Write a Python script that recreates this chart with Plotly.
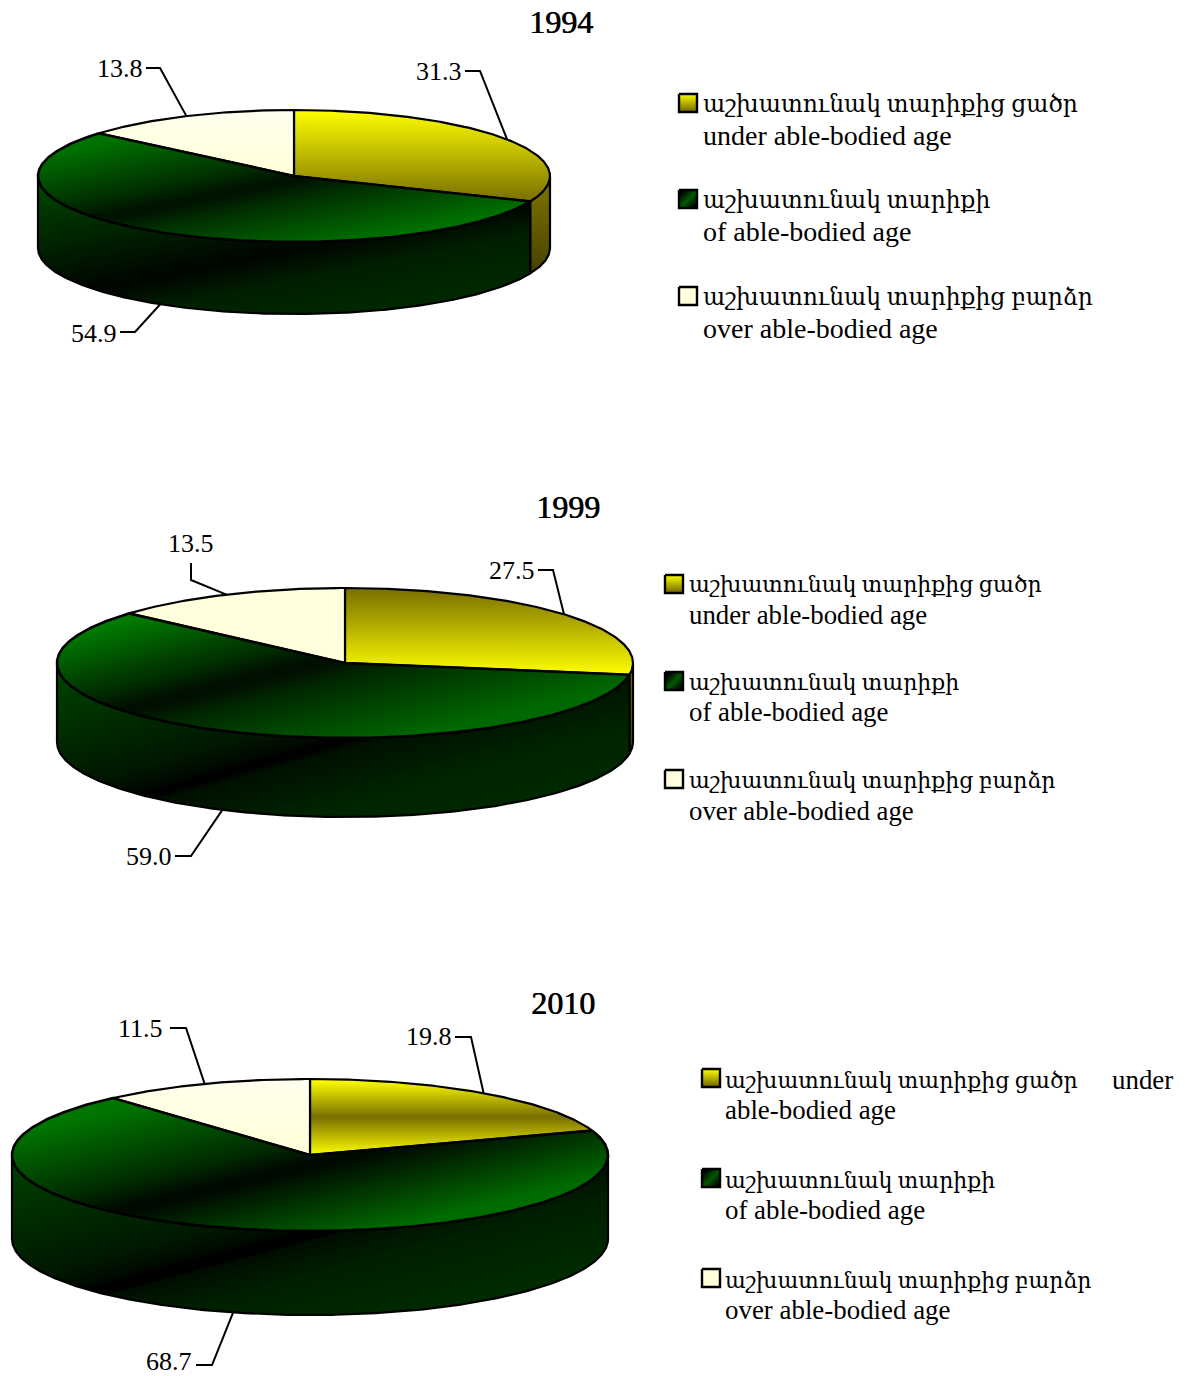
import numpy as np
import plotly.graph_objects as go

# ---------- data ----------
years = ["1994", "1999", "2010"]
under_share = [31.3, 27.5, 19.8]
working_share = [54.9, 59.0, 68.7]
over_share = [13.8, 13.5, 11.5]
labels_under = ["աշխատունակ տարիքից ցածր", "under able-bodied age"]
labels_working = ["աշխատունակ տարիքի", "of able-bodied age"]
labels_over = ["աշխատունակ տարիքից բարձր", "over able-bodied age"]

# ---------- layout of each pie (pixel space) ----------
FONT = "Liberation Serif, DejaVu Serif, serif"
pies = [
    dict(cx=294, cy=176, rx=256, ry=66, depth=72, title=(561, 22), key_x=679, text_x=703,
         arm_size=23.4, eng_size=28,
         rows=[(94, 104, 135), (190, 200, 231), (287, 297, 328)],
         under_lines=None,
         yellow=[(110, "rgb(255,255,0)"), (202, "rgb(120,110,0)")],
         cream=[(110, "rgb(255,255,240)"), (176, "rgb(255,255,215)")],
         top_band=(204, 197, -0.2, [(-72, 112), (-20, 48), (-3, 20), (3, 20), (20, 48), (72, 112)]),
         side_band=(161, 277, -0.2, [(-120, 72), (-2, 6), (30, 32), (80, 42)]),
         leaders=[((480, 71), (465, 71), (462, 71, "right")),
                  ((135, 332), (120, 332), (117, 333, "right")),
                  ((160, 68), (146, 68), (143, 68, "right"))]),
    dict(cx=345, cy=663, rx=288, ry=75, depth=79, title=(568, 507), key_x=665, text_x=689,
         arm_size=22, eng_size=26.8,
         rows=[(575, 584, 615), (672, 682, 712), (770, 780, 811)],
         under_lines=None,
         yellow=[(588, "rgb(120,110,0)"), (675, "rgb(255,255,0)")],
         cream=[(588, "rgb(255,255,222)"), (662, "rgb(255,255,222)")],
         top_band=(230, 683, -0.25, [(-85, 122), (-22, 44), (-3, 16), (3, 16), (22, 40), (95, 104)]),
         side_band=(145, 795, -0.28, [(-154, 72), (-30, 24), (-7, 9), (-5, 1), (3, 1), (7, 16), (60, 36), (150, 46)]),
         leaders=[((553, 570), (538, 570), (535, 570, "right")),
                  ((191, 856), (175, 856), (172, 856, "right")),
                  ((191, 580), (191, 563), (191, 543, "center"))]),
    dict(cx=310, cy=1155, rx=298, ry=76, depth=84, title=(563, 1003), key_x=702, text_x=725,
         arm_size=22, eng_size=26.9,
         rows=[(1069, 1080, 1110), (1169, 1180, 1210), (1269, 1280, 1310)],
         under_lines="able-bodied age",
         yellow=[(1080, "rgb(255,255,0)"), (1117, "rgb(120,110,0)"), (1155, "rgb(255,255,0)")],
         cream=[(1080, "rgb(255,255,238)"), (1155, "rgb(255,255,215)")],
         top_band=(220, 1186, -0.24, [(-100, 118), (-25, 42), (-3, 10), (3, 10), (25, 38), (80, 108)]),
         side_band=(100, 1290, -0.266, [(-156, 68), (-30, 24), (-8, 9), (-6, 0), (4, 0), (6, 14), (40, 32), (120, 46)]),
         leaders=[((471, 1037), (455, 1037), (452, 1036, "right")),
                  ((212, 1365), (196, 1365), (192, 1361, "right")),
                  ((186, 1028), (170, 1028), (163, 1028, "right"))]),
]

fig = go.Figure()
NOHOVER = dict(hoverinfo="skip", showlegend=False)


def rim(p, t, dy=0.0):
    r = np.radians(t)
    return p["cx"] + p["rx"] * np.sin(r), p["cy"] - p["ry"] * np.cos(r) + dy


def arc(p, a, b, dy=0.0):
    n = max(int(abs(b - a)) * 2, 2)
    ts = np.linspace(a, b, n)
    xs, ys = rim(p, ts, dy)
    return list(xs), list(ys)


def clip(poly, band, d0):
    """Part of poly with signed distance to the band line >= d0 (Sutherland-Hodgman)."""
    px, py, m, _ = band
    k = np.hypot(1, m)
    dist = lambda q: (q[1] - py - m * (q[0] - px)) / k - d0
    out = []
    for i, q in enumerate(poly):
        r = poly[(i + 1) % len(poly)]
        dq, dr = dist(q), dist(r)
        if dq >= 0:
            out.append(q)
        if (dq >= 0) != (dr >= 0):
            s = dq / (dq - dr)
            out.append((q[0] + s * (r[0] - q[0]), q[1] + s * (r[1] - q[1])))
    return out


def diagonal_fill(xs, ys, band, bands=110):
    poly = list(zip(xs, ys))
    stops = band[3]
    ds = [s[0] for s in stops]
    gs = [s[1] for s in stops]
    grid = np.linspace(ds[0], ds[-1], bands)
    levels = [-1e5] + list(grid[1:])
    for d0 in levels:
        part = clip(poly, band, d0)
        if len(part) < 3:
            continue
        g = int(np.interp(d0 if d0 > -1e4 else ds[0], ds, gs))
        fig.add_trace(go.Scatter(x=[q[0] for q in part], y=[q[1] for q in part], mode="lines",
                                 fill="toself", fillcolor=f"rgb(0,{g},0)", line=dict(width=0),
                                 **NOHOVER))


def outline(xs, ys, close=True, width=2.2):
    xs, ys = list(xs), list(ys)
    if close:
        xs, ys = xs + xs[:1], ys + ys[:1]
    fig.add_trace(go.Scatter(x=xs, y=ys, mode="lines", line=dict(color="black", width=width),
                             **NOHOVER))


def vgrad(stops, top, bottom):
    return dict(type="vertical", start=top, stop=bottom,
                colorscale=[[(y - top) / (bottom - top), c] for y, c in stops])


def text(x, y, s, size, anchor="left", shadow=None):
    font = dict(family=FONT, size=size, color="black")
    if shadow:
        font["shadow"] = shadow
    fig.add_annotation(x=x, y=y, text=s, showarrow=False, xanchor=anchor,
                       yanchor="middle", xref="x", yref="y", font=font, borderpad=0, borderwidth=0)


for i, p in enumerate(pies):
    vals = [under_share[i], working_share[i], over_share[i]]
    edges = np.cumsum([0] + vals) * 360.0 / sum(vals)
    d = p["depth"]
    t_y, t_g, t_c = edges[1], edges[2], edges[3]

    # side walls, visible only between 90 and 270 degrees
    if t_y > 90:
        ax, ay = arc(p, 90, t_y)
        bx, by = arc(p, t_y, 90, d)
        top = p["cy"]
        bot = p["cy"] + p["ry"] + d
        fig.add_trace(go.Scatter(x=ax + bx, y=ay + by, mode="lines", fill="toself", line=dict(width=0),
                                 fillgradient=vgrad([(top, "rgb(130,120,0)"), (bot, "rgb(45,40,0)")], top, bot),
                                 **NOHOVER))
        outline(ax + bx, ay + by)
    a0 = max(t_y, 90)
    ax, ay = arc(p, a0, 270)
    bx, by = arc(p, 270, a0, d)
    diagonal_fill(ax + bx, ay + by, p["side_band"])
    outline(ax + bx, ay + by)

    # top faces
    ax, ay = arc(p, 0, t_y)
    sx, sy = ax + [p["cx"]], ay + [p["cy"]]
    ytop, ybot = p["yellow"][0][0], p["yellow"][-1][0]
    fig.add_trace(go.Scatter(x=sx, y=sy, mode="lines", fill="toself", line=dict(width=0),
                             fillgradient=vgrad(p["yellow"], ytop, ybot), **NOHOVER))
    outline(sx, sy)

    ax, ay = arc(p, t_g, t_c)
    sx, sy = ax + [p["cx"]], ay + [p["cy"]]
    ctop, cbot = p["cream"][0][0], p["cream"][-1][0]
    fig.add_trace(go.Scatter(x=sx, y=sy, mode="lines", fill="toself", line=dict(width=0),
                             fillgradient=vgrad(p["cream"], ctop, cbot), **NOHOVER))
    outline(sx, sy)

    ax, ay = arc(p, t_y, t_g)
    sx, sy = ax + [p["cx"]], ay + [p["cy"]]
    diagonal_fill(sx, sy, p["top_band"])
    outline(sx, sy, width=2.6)

    # leader lines and value labels, anchored at each slice's mid angle
    mids = (edges[:-1] + edges[1:]) / 2
    for k, (elbow, end, lab) in enumerate(p["leaders"]):
        sx0, sy0 = rim(p, mids[k], d if 90 < mids[k] < 270 else 0)
        fig.add_trace(go.Scatter(x=[float(sx0), elbow[0], end[0]], y=[float(sy0), elbow[1], end[1]],
                                 mode="lines", line=dict(color="black", width=2), **NOHOVER))
        text(lab[0], lab[1], f"{vals[k]:.1f}", 26, lab[2])

    # title
    text(p["title"][0], p["title"][1], years[i], 32, "center", shadow="0.7px 0 0 black")

    # legend
    kinds = [
        [(0, "rgb(255,255,0)"), (1, "rgb(110,100,0)")],
        None,
        [(0, "rgb(255,255,225)"), (1, "rgb(255,255,215)")],
    ]
    all_labels = [labels_under, labels_working, labels_over]
    for k, (ky, y1, y2) in enumerate(p["rows"]):
        kx0, kx1, ky1 = p["key_x"], p["key_x"] + 18, ky + 18
        bx = [kx0, kx1, kx1, kx0]
        by = [ky, ky, ky1, ky1]
        if kinds[k] is None:
            band = (kx0 + 9, ky + 9, -1.0, [(-10, 0), (0, 90), (10, 0)])
            diagonal_fill(bx, by, band, bands=16)
        else:
            stops = [(ky + s * 18, c) for s, c in kinds[k]]
            fig.add_trace(go.Scatter(x=bx, y=by, mode="lines", fill="toself", line=dict(width=0),
                                     fillgradient=vgrad(stops, ky, ky1), **NOHOVER))
        outline(bx, by, width=2.4)
        first, second = all_labels[k]
        if k == 0 and p["under_lines"]:
            second = p["under_lines"]
            text(1173, y1, "under", p["eng_size"], "right")
        text(p["text_x"], y1, first, p["arm_size"], "left")
        text(p["text_x"], y2, second, p["eng_size"], "left")

fig.update_layout(
    width=1185, height=1376, margin=dict(l=0, r=0, t=0, b=0, pad=0),
    paper_bgcolor="white", plot_bgcolor="white", showlegend=False,
    xaxis=dict(range=[0, 1185], visible=False, fixedrange=True),
    yaxis=dict(range=[1376, 0], visible=False, fixedrange=True),
)
fig.write_html("out.html", config=dict(displayModeBar=False),
               post_script="document.body.style.margin='0';document.documentElement.style.overflow='hidden';")
